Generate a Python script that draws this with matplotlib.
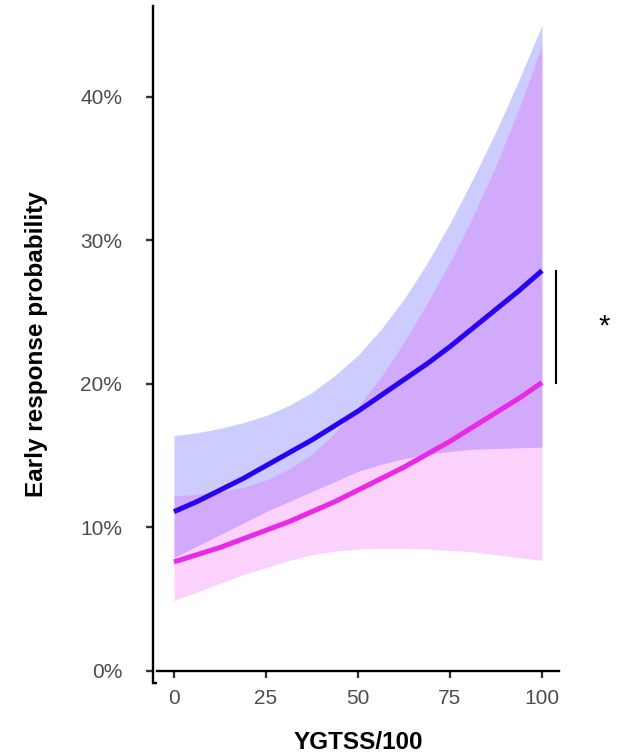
import numpy as np
import matplotlib
matplotlib.use("Agg")
import matplotlib.pyplot as plt
from matplotlib.ticker import FuncFormatter

plt.rcParams['font.family'] = ['Liberation Sans', 'DejaVu Sans']

# x grid (YGTSS/100) and values (percent)
ygtss = [0, 6.25, 12.5, 18.75, 25, 31.25, 37.5, 43.75, 50,
         56.25, 62.5, 68.75, 75, 81.25, 87.5, 93.75, 100]

blue_fit = [11.1, 11.8, 12.6, 13.4, 14.3, 15.2, 16.1, 17.1, 18.1,
            19.2, 20.3, 21.4, 22.6, 23.9, 25.2, 26.5, 27.9]
blue_lo  = [7.9, 8.7, 9.5, 10.3, 11.1, 11.8, 12.5, 13.2, 13.9,
            14.4, 14.8, 15.1, 15.3, 15.45, 15.5, 15.55, 15.6]
blue_hi  = [16.4, 16.6, 16.9, 17.3, 17.8, 18.5, 19.4, 20.6, 22.0,
            23.8, 25.9, 28.4, 31.2, 34.3, 37.6, 41.2, 45.0]

pink_fit = [7.6, 8.1, 8.6, 9.2, 9.8, 10.4, 11.1, 11.8, 12.6,
            13.4, 14.2, 15.1, 16.0, 17.0, 18.0, 19.0, 20.1]
pink_lo  = [4.9, 5.5, 6.1, 6.7, 7.2, 7.7, 8.1, 8.35, 8.5,
            8.55, 8.55, 8.5, 8.4, 8.3, 8.1, 7.9, 7.7]
pink_hi  = [12.2, 12.3, 12.5, 12.8, 13.3, 14.1, 15.1, 16.6, 18.4,
            20.5, 22.9, 25.6, 28.5, 31.7, 35.2, 39.2, 43.6]

y_ticks = [0, 10, 20, 30, 40]
x_ticks = [0, 25, 50, 75, 100]

blue = '#2A00F2'
pink = '#E82AE6'

fig = plt.figure(figsize=(6.28, 7.53), dpi=100)
ax = fig.add_axes([0.2436, 0.093, 0.6464, 0.899])

ax.fill_between(ygtss, blue_lo, blue_hi, color='#0000FF', alpha=0.2, lw=0)
ax.fill_between(ygtss, pink_lo, pink_hi, color='#EE22EE', alpha=0.2, lw=0)
ax.plot(ygtss, blue_fit, color=blue, lw=3.6, solid_capstyle='butt')
ax.plot(ygtss, pink_fit, color=pink, lw=3.6, solid_capstyle='butt')

# significance bracket
ax.plot([103.8, 103.8], [blue_fit[-1], pink_fit[-1]], color='black', lw=1.5,
        clip_on=False)
ax.text(116.8, 24.0, '*', fontsize=21, ha='center', va='center')

ax.set_xlim(-5.7, 104.6)
ax.set_ylim(-0.84, 46.34)
ax.set_xticks(x_ticks)
ax.set_yticks(y_ticks)
ax.yaxis.set_major_formatter(FuncFormatter(lambda v, p: '%d%%' % v))

for s in ['top', 'right']:
    ax.spines[s].set_visible(False)
ax.spines['left'].set_linewidth(1.7)
ax.spines['bottom'].set_linewidth(1.7)
ax.spines['bottom'].set_position(('data', 0))
ax.spines['bottom'].set_bounds(-4.6, 104.6)
# little hook at bottom of y axis
ax.plot([0, 0.01], [0, 0], transform=ax.transAxes, color='black', lw=1.7,
        clip_on=False, solid_capstyle='butt')

ax.tick_params(axis='both', colors='#333333', labelcolor='#4D4D4D',
               width=1.7, length=5.2, labelsize=15)
ax.tick_params(axis='y', pad=17)
ax.tick_params(axis='x', pad=8)

ax.set_xlabel('YGTSS/100', fontsize=17.5, fontweight='bold')
ax.set_ylabel('Early response probability', fontsize=17.5, fontweight='bold')
ax.xaxis.set_label_coords(0.505, -0.071)
ax.yaxis.set_label_coords(-0.259, 0.5)

fig.savefig('out.png', dpi=100)
